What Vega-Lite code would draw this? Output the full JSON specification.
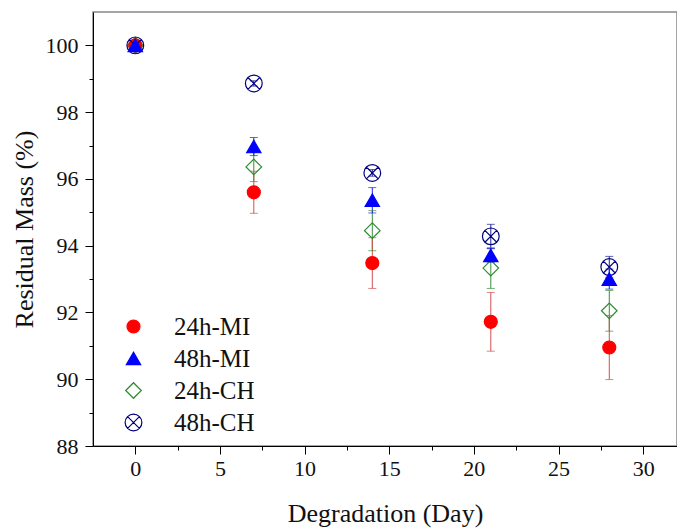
{
  "$schema": "https://vega.github.io/schema/vega-lite/v6.json",
  "autosize": {"type": "none"},
  "width": 584,
  "height": 434,
  "padding": {"left": 93, "top": 12, "right": 0, "bottom": 82},
  "background": "white",
  "config": {
    "view": {"stroke": "#888888", "strokeWidth": 1.5},
    "font": "Liberation Serif",
    "legend": {
      "orient": "bottom-left",
      "offset": 10,
      "labelFont": "Liberation Serif",
      "labelFontSize": 25,
      "labelColor": "#111",
      "labelOffset": 28,
      "rowPadding": 6,
      "symbolOffset": 18,
      "symbolStrokeWidth": 1.2,
      "padding": 0
    }
  },
  "data": {
    "values": [
      {"series": "24h-CH", "day": 0, "mass": 100, "lo": 99.95, "hi": 100.05},
      {"series": "24h-CH", "day": 7, "mass": 96.36, "lo": 95.92, "hi": 96.8},
      {"series": "24h-CH", "day": 14, "mass": 94.45, "lo": 93.85, "hi": 95.05},
      {"series": "24h-CH", "day": 21, "mass": 93.33, "lo": 92.72, "hi": 93.94},
      {"series": "24h-CH", "day": 28, "mass": 92.05, "lo": 91.44, "hi": 92.66},
      {"series": "24h-MI", "day": 0, "mass": 100, "lo": 99.95, "hi": 100.05},
      {"series": "24h-MI", "day": 7, "mass": 95.6, "lo": 94.97, "hi": 96.23},
      {"series": "24h-MI", "day": 14, "mass": 93.48, "lo": 92.72, "hi": 94.24},
      {"series": "24h-MI", "day": 21, "mass": 91.72, "lo": 90.84, "hi": 92.6},
      {"series": "24h-MI", "day": 28, "mass": 90.95, "lo": 89.99, "hi": 91.91},
      {"series": "48h-CH", "day": 0, "mass": 100, "lo": 99.95, "hi": 100.05},
      {"series": "48h-CH", "day": 7, "mass": 98.86, "lo": 98.78, "hi": 98.94},
      {"series": "48h-CH", "day": 14, "mass": 96.18, "lo": 96.08, "hi": 96.28},
      {"series": "48h-CH", "day": 21, "mass": 94.28, "lo": 93.92, "hi": 94.64},
      {"series": "48h-CH", "day": 28, "mass": 93.36, "lo": 93.04, "hi": 93.68},
      {"series": "48h-MI", "day": 0, "mass": 100, "lo": 99.95, "hi": 100.05},
      {"series": "48h-MI", "day": 7, "mass": 96.97, "lo": 96.7, "hi": 97.24},
      {"series": "48h-MI", "day": 14, "mass": 95.36, "lo": 94.98, "hi": 95.74},
      {"series": "48h-MI", "day": 21, "mass": 93.71, "lo": 93.51, "hi": 93.91},
      {"series": "48h-MI", "day": 28, "mass": 93.0, "lo": 92.7, "hi": 93.3}
    ]
  },
  "encoding": {
    "x": {
      "field": "day", "type": "quantitative",
      "scale": {"domain": [-2.5, 32], "nice": false, "zero": false},
      "axis": {
        "title": "Degradation (Day)",
        "values": [0, 2.5, 5, 7.5, 10, 12.5, 15, 17.5, 20, 22.5, 25, 27.5, 30],
        "labelExpr": "datum.value % 5 === 0 ? datum.label : ''",
        "tickSize": {"condition": {"test": "datum.value % 5 === 0", "value": 8}, "value": 4},
        "grid": false,
        "domainColor": "#000", "tickColor": "#000", "labelColor": "#111", "titleColor": "#111",
        "labelFont": "Liberation Serif", "labelFontSize": 22,
        "titleFont": "Liberation Serif", "titleFontSize": 26, "titleFontWeight": "normal",
        "labelPadding": 4, "titlePadding": 21, "labelFlush": false
      }
    },
    "y": {
      "field": "mass", "type": "quantitative",
      "scale": {"domain": [88, 101], "nice": false, "zero": false},
      "axis": {
        "title": "Residual Mass (%)",
        "values": [88, 89, 90, 91, 92, 93, 94, 95, 96, 97, 98, 99, 100],
        "labelExpr": "datum.value % 2 === 0 ? datum.label : ''",
        "tickSize": {"condition": {"test": "datum.value % 2 === 0", "value": 8}, "value": 4},
        "grid": false,
        "domainColor": "#000", "tickColor": "#000", "labelColor": "#111", "titleColor": "#111",
        "labelFont": "Liberation Serif", "labelFontSize": 22,
        "titleFont": "Liberation Serif", "titleFontSize": 26, "titleFontWeight": "normal",
        "labelPadding": 7, "titlePadding": 8, "labelFlush": false
      }
    }
  },
  "layer": [
    {
      "mark": {"type": "rule", "strokeWidth": 1},
      "encoding": {
        "y": {"field": "lo", "type": "quantitative"},
        "y2": {"field": "hi"},
        "color": {
          "field": "series", "type": "nominal", "legend": null,
          "scale": {"domain": ["24h-CH", "24h-MI", "48h-CH", "48h-MI"], "range": ["#3a8f3a", "#d05050", "#202090", "#2020ee"]}
        }
      }
    },
    {
      "mark": {"type": "tick", "orient": "horizontal", "size": 8, "thickness": 1},
      "encoding": {
        "y": {"field": "lo", "type": "quantitative"},
        "color": {"field": "series", "type": "nominal", "legend": null}
      }
    },
    {
      "mark": {"type": "tick", "orient": "horizontal", "size": 8, "thickness": 1},
      "encoding": {
        "y": {"field": "hi", "type": "quantitative"},
        "color": {"field": "series", "type": "nominal", "legend": null}
      }
    },
    {
      "mark": {"type": "point", "opacity": 1, "strokeWidth": 1.2},
      "encoding": {
        "order": {"field": "series", "sort": "ascending"},
        "shape": {
          "field": "series", "type": "nominal", "title": null,
          "scale": {"domain": ["24h-MI", "48h-MI", "24h-CH", "48h-CH"], "range": ["circle", "triangle-up", "diamond", "M1,0A1,1,0,1,1,-1,0A1,1,0,1,1,1,0M-0.7071,-0.7071L0.7071,0.7071M-0.7071,0.7071L0.7071,-0.7071"]}
        },
        "fill": {
          "field": "series", "type": "nominal", "title": null,
          "scale": {"domain": ["24h-MI", "48h-MI", "24h-CH", "48h-CH"], "range": ["#ff0000", "#0000ff", "transparent", "transparent"]}
        },
        "stroke": {
          "field": "series", "type": "nominal", "title": null,
          "scale": {"domain": ["24h-MI", "48h-MI", "24h-CH", "48h-CH"], "range": ["#ff0000", "#0000ff", "#2e8b2e", "#000080"]}
        },
        "size": {
          "field": "series", "type": "nominal", "title": null,
          "scale": {"domain": ["24h-MI", "48h-MI", "24h-CH", "48h-CH"], "range": [169, 280, 300, 150]}
        }
      }
    }
  ]
}
